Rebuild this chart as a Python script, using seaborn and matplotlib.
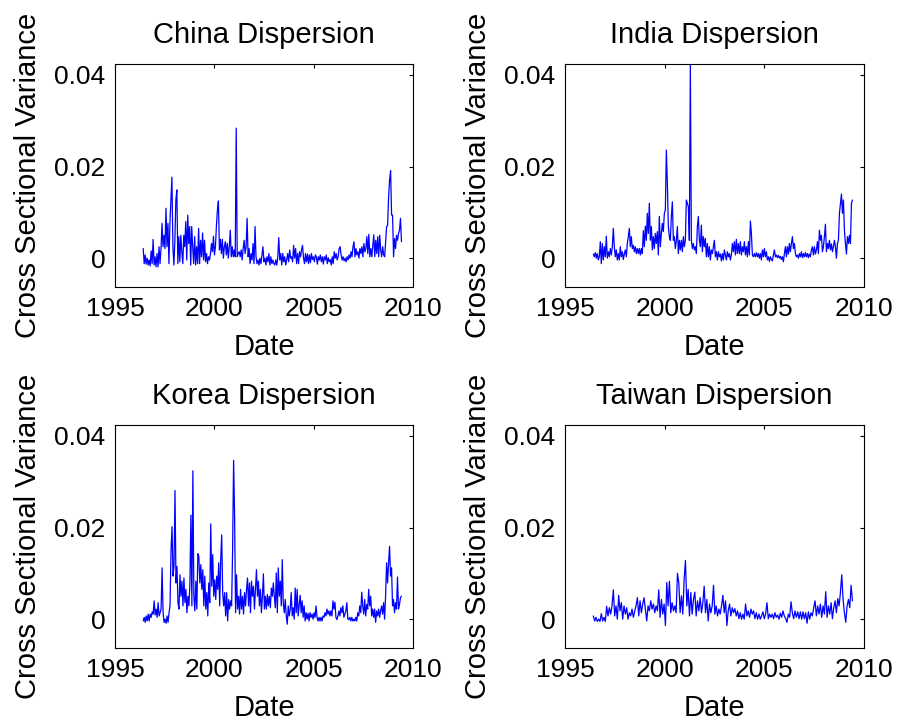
import numpy as np
import pandas as pd
import matplotlib
matplotlib.use("Agg")
import matplotlib.pyplot as plt
import seaborn as sns

# ---------------- data (values in units of 1e-3) ----------------
SCALE = 1e-3
START_YEAR = 1996.42
END_YEAR = 2009.42

china = [2.1, -1.2, 0.7, -1.3, 0, -1.5, -0.4, -1.7, 1.6, -1.2, 4.1, -1.5, 0.3, -1.9, 1.0, -1.9, 2.5, -1.2, 2.1, 7.6,
         2.5, 5.0, 2.1, 10.9, 2.5, 7.6, -1.2, 7.6, 12.7, 17.7, 2.5, -1.5, 3.9, 12.7, 14.9, -1.2, 4.7, -0.8, 5.0, 1.4,
         -1.2, 5.0, 2.5, 8.0, -0.4, 9.4, 3.2, 6.9, -1.5, 6.9, 2.5, -1.2, 4.7, -1.5, 2.5, -1.2, 6.5, -1.2, 3.9, 0.3,
         5.5, -0.4, 3.9, -0.8, 1.0, -1.2, 0.3, -0.4, 1.0, 3.2, 1.4, 4.8, 0.7, 2.5, 7.2, 10.5, 12.5, 1.8, 4.1, 1.0,
         4.1, 0, 2.5, 3.6, 0.7, 3.2, 0, 2.5, 6.1, 0.3, 2.5, 0.3, 1.8, 0.3, 28.4, 0.3, 1.0, 1.4, 0.3, 1.8,
         -0.4, 2.1, 3.9, 1.0, 2.5, 8.7, 0.3, 2.1, -1.2, 1.0, -0.4, 3.2, -1.2, 6.9, 0.3, -1.2, -0.4, -1.5, 0, -1.2,
         0.7, 2.5, -0.8, 0, -1.5, 0.3, -0.8, 1.0, -1.5, 0.3, -1.2, -0.4, -1.2,
         -1.5, -0.4, -1.5, 0.3, 4.5, -0.4, 1.0, -1.5, 1.0, -0.8, 0.3, -1.5, -0.4, 1.0, -0.8, 1.8, 0, 0.3, -0.8, 2.8,
         0, 2.1, -1.2, 1.0, -1.2, 1.4, 0.3, 1.8, 2.8, 0, -1.2, 1.0, -0.8, 0.9, -1.2, 0.7, -1.0, 1.0, -0.3, 0.3,
         -0.8, 0.7, 0.3, -1.3, 0.3, -0.4, 0.7, -0.8, 0.3, -1.3, 0.3, -0.4, 0.7, -1.2, 0.1, -0.8, -0.3, -1.5, 0.3, -1.2,
         1.4, 0, 1.0, -0.4, 0.3, 2.1, 2.5, 0.7, -0.4, 0.3, -0.6, 0, -0.8, 0.3, -0.4, 0.7, 0, 1.4, 0.3, 2.5,
         3.6, 0.3, 2.1, 0.7, 1.4, 0, 2.1, 1.0, 2.5, 0.3, 3.2, 1.4, 2.1, 4.7, 1.0, 5.2, 0.3, 2.1, 0.3, 2.8,
         5.1, 0.3, 3.9, 1.0, 4.7, 0.3, 5.0, 1.8, 0.3, 2.5, 0.7, 0.3, 3.6, 6.9, 7.2, 13.4, 17.1, 19.1, 9.4, 9.4,
         0.3, 4.3, 2.1, 5.0, 3.9, 5.4, 6.1, 8.7, 3.6]

india = [0.9, 0.3, 1.2, 0, 1.0, -0.4, 0.3, 3.6, -1.2, 3.2, -0.4, 2.5, 0.3, 4.8, 0, 1.4, 0.3, 2.1, 0.7, 2.5,
         6.5, 2.5, 0.3, 1.8, -0.4, 1.0, -0.4, 2.5, 0.3, 1.4, -0.3, 0.9, 1.8, 0.3, 3.2, 4.7, 6.5, 2.5, 4.7, 2.1,
         2.8, 1.4, 2.5, 1.0, 2.1, 1.0, 2.1, 0.7, 2.1, 1.0, 6.0, 2.5, 7.0, 3.9, 9.8, 5.4, 12.0, 3.9, 6.9, 1.8,
         4.7, 2.1, 5.4, 3.2, 5.8, 0.7, 9.1, 2.5, 5.4, 7.6, 5.8, 9.8, 10.5, 23.6, 16.4, 6.9, 4.7, 3.9, 9.1, 12.3,
         3.9, 4.7, 2.1, 3.9, 6.9, 1.0, 3.9, 1.8, 3.9, 1.4, 4.7, 2.5, 3.9, 12.7, 12.0, 11.2, 3.9, 42.2, 3.9, 2.1,
         3.2, 1.8, 2.5, 1.0, 6.9, 9.1, 3.9, 2.5, 7.2, 1.4, 4.7, 2.5, 4.3, 0.3, 3.2, 0.3, 2.5, -0.4, 1.8, 1.0,
         2.5, 3.9, 0.3, 1.4, -0.4, 1.4, 0.3, 0.9, -0.6, 1.0, -0.4, 1.8,
         0.7, -0.4, 1.4, 0.3, 1.0, -0.4, 0.7, 3.2, 1.4, 3.6, 0.7, 4.1, 1.0, 3.2, 1.0, 3.6, 0.7, 2.5, 1.4, 3.6,
         0.7, 2.5, 0.3, 3.6, 0.7, 8.1, 5.4, 0.7, 0.3, 1.0, 0.3, 1.2, 0.3, 1.0, 0, 1.0, -0.4, 1.8, 0.3, 2.1,
         0.3, 1.4, -0.4, 0.3, -0.7, 0.3, -0.3, -0.6, 0.7, 1.8, 0.3, 0.7, 0.1, 0.6, 0, 0.4, -0.3, 0.3, -0.8, 1.0,
         2.5, 0.3, 2.5, 0.9, 3.2, 1.4, 3.2, 4.7, 2.1, 3.2, 1.0, 0.3, 0.7, 0, 1.0, 0.3, 1.4, 0.1, 1.0, 0.3,
         1.2, 0.3, 1.0, 0.1, 0.9, 0.3, 1.8, 2.5, 0.7, 2.5, 0.9, 1.8, 3.6, 1.0, 6.1, 3.9, 5.0, 1.4, 2.5, 4.7,
         7.4, 1.4, 3.2, 2.1, 3.9, 1.8, 3.1, 1.4, 2.5, 3.9, 2.5, 0, 3.2, 3.9, 9.8, 12.0, 14.0, 9.8, 12.7, 6.1,
         3.2, 0.9, 4.7, 3.2, 5.0, 3.2, 12.0, 12.7]

korea = [-0.4, 0.4, -0.7, 0.7, -0.4, 1.1, -0.4, 1.1, 0.4, 1.6, 1.1, 4.0, 0.9, 2.2, 0.4, 3.6, 0.7, 1.4, 2.2, 11.2,
         1.4, -0.7, 0, -0.9, 0.7, -0.7, 1.4, 2.9, 15.1, 20.2, 9.4, 11.5, 28.1, 7.9, 11.5, 3.6, 2.2, 9.7, 5.0, 8.3,
         2.9, 9.0, 3.6, 6.5, 1.4, 5.0, 2.9, 7.6, 22.7, 2.9, 32.4, 5.0, 1.8, 8.3, 2.2, 14.3, 13.7, 7.9, 11.9, 6.5,
         10.8, 2.9, 9.4, 2.2, 5.8, 0.7, 7.9, 3.6, 20.8, 7.2, 14.1, 5.0, 8.6, 4.3, 9.4, 6.5, 12.3, 2.9, 13.0, 18.4,
         5.8, 2.9, 5.8, 0.7, 5.8, -0.4, 4.3, 2.2, 4.0, 2.9, 15.1, 34.7, 22.3, 1.4, 9.7, 2.2, 5.0, 1.1, 6.5, 2.2,
         5.0, 1.1, 5.8, 2.9, 6.5, 9.0, 2.9, 7.9, 1.4, 8.3, 5.0, 7.2, 2.2, 6.5, 10.8, 5.0, 8.3, 2.9, 6.5, 1.4,
         5.0, 9.9, 2.2, 5.0, 2.2, 5.4, 2.9, 5.0, 2.5, 6.8, 5.0, 7.9,
         5.0, 2.5, 10.1, 1.4, 11.2, 5.0, 8.3, 2.9, 13.0, 3.6, 1.4, 4.3, 0.7, -1.1, 2.9, 0.7, 2.2, 5.8, 0.7, 2.5,
         0, 6.8, 1.4, 6.5, 0.7, 2.9, 5.2, 1.4, 4.0, 0.4, 2.9, -0.4, 1.4, 0, 1.3, -0.4, 1.4, 0.4, 1.1, 0,
         1.4, 0.4, 2.9, 0.4, -0.4, 0.4, -0.4, 0.4, -0.4, 0.7, 0.4, 1.4, 0.7, 2.2, 1.1, 1.8, 0.7, 1.8, 0.7, 4.0,
         2.2, 3.7, 0.4, -0.1, 0.7, 1.8, 0.7, 2.5, 1.4, 2.9, 0.4, 1.1, 1.8, 3.6, 0, -0.1, 0.4, -0.4, 0.4, -0.4,
         0, -0.4, 0.4, -0.4, 1.4, 0.7, 2.9, 1.4, 5.9, 2.9, 1.1, 4.3, 0.7, 3.2, 2.2, 6.5, 2.9, 5.0, 0.7, 2.2,
         0.4, 2.2, -0.7, 1.8, 0.7, 2.2, 0.4, 1.8, 2.9, 1.1, 3.6, 0, 5.0, 12.3, 7.9, 12.3, 15.9, 9.4, 11.2, 2.9,
         4.3, 1.4, 3.6, 2.2, 9.2, 2.2, 3.2, 4.7, 5.0]

taiwan = [0.7, -0.4, 0.4, -0.5, 0, -0.5, 1.2, -0.4, 0.4, -0.5, 2.8, 0.7, 2.5, 1.1, 2.9, 6.4, 0.7, 2.9, 0, 5.2,
          1.8, 3.6, 0, 2.9, 1.1, 2.5, 0, 1.4, 0.7, 2.2, 0.4, 1.8, 2.9, 4.7, 0.7, 4.0, 1.4, 3.3, 4.7, 2.2,
          -0.4, 2.9, 1.8, 4.0, 2.2, 3.3, 1.4, 2.9, 1.8, 6.4, 0.4, 4.3, 1.1, 3.3, -1.4, 8.0, 2.9, 8.3, 1.4, 3.6,
          1.8, 2.9, 1.4, 10.0, 8.0, 1.4, 5.1, 1.1, 8.8, 12.8, 2.9, 6.5, 0.7, 5.8, 1.1, 4.3, 5.9, 0.7, 4.0, 1.8,
          4.7, 1.4, 3.6, 7.2, 1.4, 4.3, -0.4, 3.3, 1.4, 2.9, 7.4, 1.1, 2.9, 0.7, 2.2, 1.1, 2.9, 5.2, 1.4, 4.0,
          -1.4, 1.8, 3.3, 0.7, 2.5, 1.4, 2.3, 0.7, 1.8, 0.1, 1.4, 0, 1.1, 0, 3.3, 0.7, 1.8, 0.4, 2.2, 1.1,
          1.8, 0.1, 1.4, 0, 1.1, 0, 0.7, 1.6, 0.1, 1.1, 3.6, 0.1, 1.1, 0.4, 1.1, 0.1, 1.4, 0.4, 0.9, 0,
          1.3, 0.4, 1.8, 0.7, 0.1, -0.7, 1.1, 0.4, 3.8, 1.4, 0.1, 1.8, 0.4, 1.6, 0.1, 1.6, 0, 1.6, 0.1, 1.4,
          -0.9, 1.6, 0, 1.4, 0.7, 2.5, 4.0, 0.7, 2.9, 1.1, 3.3, 0.4, 2.9, 1.1, 6.0, 0.4, 2.9, 1.1, 3.6, 0.1,
          2.5, 4.0, 1.4, 4.5, 2.9, 5.8, 9.7, 4.3, 1.4, -0.7, 2.9, 4.3, 2.5, 7.4, 4.0]

countries = ["China", "India", "Korea", "Taiwan"]
series = [china, india, korea, taiwan]

x_ticks = [1995, 2000, 2005, 2010]
y_ticks = [0, 0.02, 0.04]
y_tick_labels = ["0", "0.02", "0.04"]

# ---------------- style ----------------
sns.set_style("white")
plt.rcParams["font.family"] = ["Liberation Sans", "DejaVu Sans"]
plt.rcParams["axes.linewidth"] = 0.8
plt.rcParams["text.color"] = "black"
plt.rcParams["axes.labelcolor"] = "black"

fig = plt.figure(figsize=(9.04, 7.24), dpi=100)
W, H = 904, 724
boxes = [(115, 64, 413, 287), (565, 64, 864, 287),
         (115, 425, 413, 648), (565, 425, 864, 648)]

FS = 19
LFS = 21
for name, vals, (x0, y0, x1, y1) in zip(countries, series, boxes):
    ax = fig.add_axes([x0 / W, 1 - y1 / H, (x1 - x0) / W, (y1 - y0) / H])
    v = np.array(vals) * SCALE
    dates = np.linspace(START_YEAR, END_YEAR, len(v))
    df = pd.DataFrame({"Date": dates, "Var": v})
    sns.lineplot(data=df, x="Date", y="Var", ax=ax, color="#0000FF",
                 linewidth=0.9, estimator=None)
    ax.set_xlim(1995, 2010)
    ax.set_ylim(-0.0063, 0.0424)
    ax.set_xticks(x_ticks)
    ax.set_xticklabels([str(t) for t in x_ticks])
    ax.set_yticks(y_ticks)
    ax.set_yticklabels(y_tick_labels)
    ax.tick_params(direction="in", top=True, right=True, length=3, width=0.8,
                   labelsize=FS, colors="black", pad=7)
    for s in ax.spines.values():
        s.set_visible(True)
        s.set_color("black")
        s.set_linewidth(0.8)
    ax.set_title(f"{name} Dispersion", fontsize=LFS, pad=15, color="black")
    ax.set_xlabel("Date", fontsize=LFS, labelpad=9, color="black")
    ax.set_ylabel("Cross Sectional Variance", fontsize=LFS, labelpad=9, color="black")

fig.savefig("out.png", dpi=100, facecolor="white")
